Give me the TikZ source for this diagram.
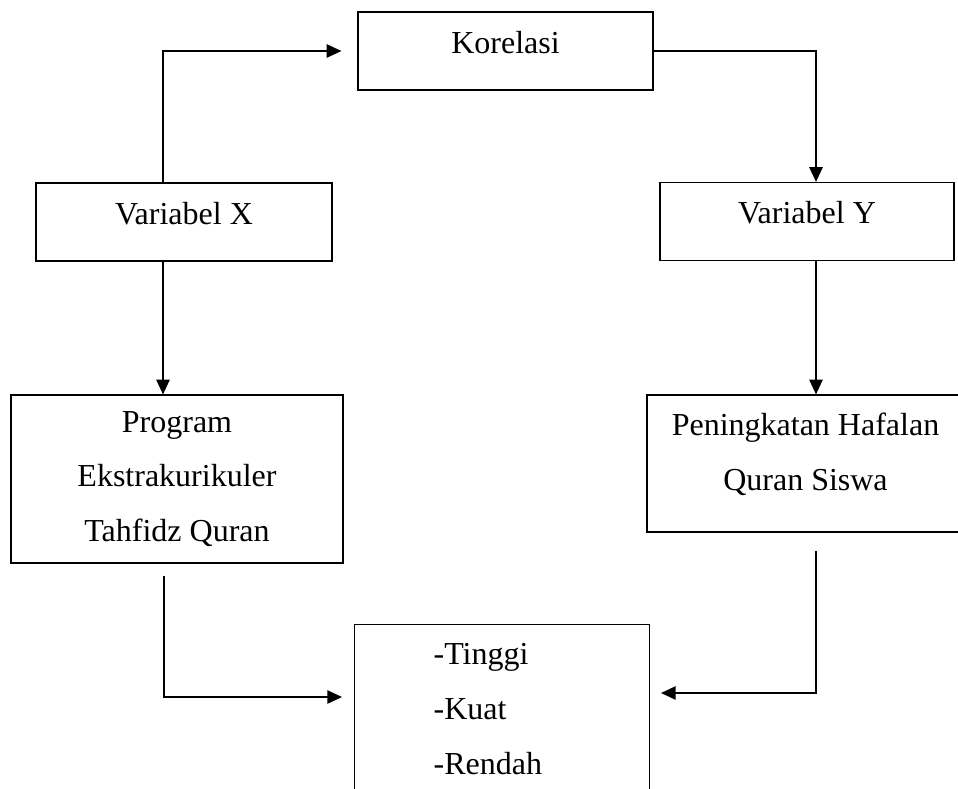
\documentclass[tikz,border=0pt]{standalone}
\usepackage{fontspec}
\setmainfont{Liberation Serif}
\usetikzlibrary{arrows.meta}

\begin{document}
\begin{tikzpicture}[x=0.75pt,y=-0.75pt,->,>={Triangle[length=11pt,width=10pt]},
  line width=1.1pt,every node/.style={font=\fontsize{24}{41}\selectfont}]
  \tikzstyle{box}=[draw,rectangle,line width=0.9pt,inner sep=0pt]
  \tikzstyle{onebox}=[box,minimum height=58.5pt,text height=16.5pt,text depth=13.5pt]

  \useasboundingbox (0,0) rectangle (958,789);

  \node[onebox,minimum width=221.25pt] (kor)  at (505.5,51)  {Korelasi};
  \node[onebox,minimum width=222pt]    (varx) at (184,222)   {Variabel X};
  \node[onebox,minimum width=220.5pt]  (vary) at (807,221.5) {Variabel Y};
  \node[box,align=center,minimum width=249pt,minimum height=126pt]
    (prog) at (177,479) {Program\\Ekstrakurikuler\\Tahfidz Quran};
  \node[box,align=center,minimum width=237.75pt,minimum height=102.75pt,text depth=18pt]
    (ping) at (805.5,463.5) {Peningkatan Hafalan\\Quran Siswa};
  \node[box,anchor=north west,align=left,text width=102.75pt,minimum width=221.25pt,
    inner ysep=14.25pt] (hasil) at (354,624) {-Tinggi\\-Kuat\\-Rendah};

  \coordinate (inL) at (342,697);
  \coordinate (inR) at (661,693);

  \draw ([xshift=-15.75pt]varx.north) |- ([xshift=-12pt]kor.west);
  \draw (kor.east) -| ([xshift=6.75pt]vary.north);
  \draw ([xshift=-15.75pt]varx.south) coordinate (vx) -- (vx |- prog.north);
  \draw ([xshift=6.75pt]vary.south) coordinate (vy) -- (vy |- ping.north);
  \draw[shorten <=9pt] ([xshift=-9.75pt]prog.south) |- (inL);
  \draw[shorten <=13.5pt] ([xshift=7.875pt]ping.south) |- (inR);
\end{tikzpicture}
\end{document}
